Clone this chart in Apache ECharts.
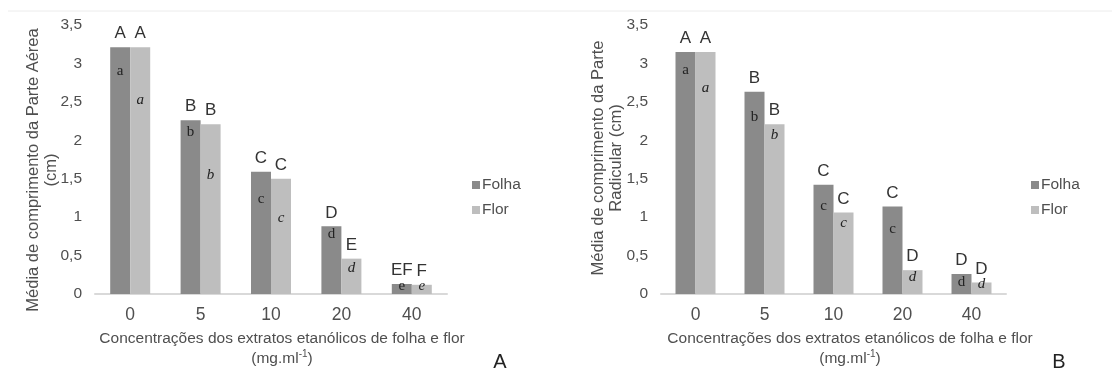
<!DOCTYPE html>
<html>
<head>
<meta charset="utf-8">
<script src="https://cdn.jsdelivr.net/npm/echarts@6/dist/echarts.min.js"></script>
<style>html,body{margin:0;padding:0;background:#fff}#c{width:1112px;height:372px}</style>
</head>
<body>
<div id="c"></div>
<script>
// ---- data ----
const categories = ['0', '5', '10', '20', '40'];
const folhaA = [3.21, 2.26, 1.59, 0.88, 0.13];
const florA  = [3.21, 2.21, 1.50, 0.46, 0.12];
const folhaB = [3.15, 2.63, 1.42, 1.14, 0.26];
const florB  = [3.15, 2.21, 1.06, 0.31, 0.15];
const upperFolhaA = ['A', 'B', 'C', 'D', 'EF'];
const upperFlorA  = ['A', 'B', 'C', 'E', 'F'];
const upperFolhaB = ['A', 'B', 'C', 'C', 'D'];
const upperFlorB  = ['A', 'B', 'C', 'D', 'D'];
const lowerFolhaA = ['a', 'b', 'c', 'd', 'e'];
const lowerFlorA  = ['a', 'b', 'c', 'd', 'e'];
const lowerFolhaB = ['a', 'b', 'c', 'c', 'd'];
const lowerFlorB  = ['a', 'b', 'c', 'd', 'd'];
const yMin = 0, yMax = 3.5, yInterval = 0.5;
const xTitle = 'Concentrações dos extratos etanólicos de folha e flor';
const xUnit = '(mg.ml{sup|-1})';
const yTitleA = ['Média de comprimento da Parte Aérea', '(cm)'];
const yTitleB = ['Média de comprimento da Parte', 'Radicular (cm)'];

// ---- styling (label placement inside bars, in px below bar top) ----
const offFolhaA = [24, 12, 27, 8, 2];
const offFlorA  = [53, 51, 39, 9, 1];
const offFolhaB = [18, 25, 21, 23, 8];
const offFlorB  = [36, 11, 11, 7, 2];

const COL_FOLHA = '#8a8a8a';
const COL_FLOR = '#bebebe';
const TXT = '#4f4f4f';
const SANS = 'Liberation Sans, Arial, sans-serif';
const SERIF = 'Liberation Serif, Times New Roman, serif';

function barSeries(name, vals, upper, lower, offs, color, italic, idx) {
  return {
    name: name, type: 'bar', xAxisIndex: idx, yAxisIndex: idx,
    data: vals, barWidth: 20, barGap: '0%',
    itemStyle: { color: color },
    label: {
      show: true, position: 'top', distance: 5,
      formatter: p => upper[p.dataIndex],
      color: '#333333', fontFamily: SANS, fontSize: 17
    },
    markPoint: {
      symbol: 'circle', symbolSize: 0, silent: true,
      itemStyle: { color: 'rgba(0,0,0,0)' },
      data: vals.map((v, i) => ({
        coord: [categories[i], v],
        label: {
          show: true, position: 'inside', offset: [0, offs[i]],
          formatter: lower[i], color: '#222', fontFamily: SERIF,
          fontSize: 15, fontStyle: italic ? 'italic' : 'normal'
        }
      }))
    }
  };
}

function xAx(idx) {
  return {
    type: 'category', gridIndex: idx, data: categories,
    axisLine: { lineStyle: { color: '#d9d9d9', width: 2 } },
    axisTick: { show: false },
    axisLabel: { color: TXT, fontFamily: SANS, fontSize: 17.5, margin: 12 }
  };
}
function yAx(idx) {
  return {
    type: 'value', gridIndex: idx, min: yMin, max: yMax, interval: yInterval,
    axisLine: { show: false }, axisTick: { show: false },
    splitLine: { show: false },
    axisLabel: {
      color: TXT, fontFamily: SANS, fontSize: 15.5, margin: 13,
      formatter: v => String(v).replace('.', ',')
    }
  };
}
function legend(left) {
  return {
    data: ['Folha', 'Flor'], orient: 'vertical', left: left, top: 172,
    icon: 'rect', itemWidth: 8, itemHeight: 8, itemGap: 9,
    textStyle: { color: TXT, fontFamily: SANS, fontSize: 15.5, padding: [0, 0, 0, -3] },
    selectedMode: false
  };
}
function xTitleGraphic(cx) {
  return {
    type: 'text', x: cx, y: 329,
    style: {
      text: xTitle + '\n' + xUnit, align: 'center', verticalAlign: 'top',
      fill: TXT, font: '15.5px ' + SANS, lineHeight: 20,
      rich: { sup: { fontSize: 10, verticalAlign: 'top', fill: TXT, padding: [0, 0, 6, 0] } }
    }
  };
}
function yTitleGraphic(cx, cy, lines) {
  return {
    type: 'text', x: cx, y: cy, rotation: Math.PI / 2,
    style: {
      text: lines.join('\n'), align: 'center', verticalAlign: 'middle',
      fill: TXT, font: '16.5px ' + SANS, lineHeight: 18
    }
  };
}

const chart = echarts.init(document.getElementById('c'), null, { renderer: 'canvas' });
chart.setOption({
  animation: false,
  backgroundColor: '#ffffff',
  grid: [
    { left: 95, right: 665, top: 25, bottom: 78 },
    { left: 661, right: 106, top: 25, bottom: 78 }
  ],
  xAxis: [xAx(0), xAx(1)],
  yAxis: [yAx(0), yAx(1)],
  legend: [legend(467), legend(1026)],
  series: [
    barSeries('Folha', folhaA, upperFolhaA, lowerFolhaA, offFolhaA, COL_FOLHA, false, 0),
    barSeries('Flor', florA, upperFlorA, lowerFlorA, offFlorA, COL_FLOR, true, 0),
    barSeries('Folha', folhaB, upperFolhaB, lowerFolhaB, offFolhaB, COL_FOLHA, false, 1),
    barSeries('Flor', florB, upperFlorB, lowerFlorB, offFlorB, COL_FLOR, true, 1)
  ],
  graphic: [
    { type: 'line', shape: { x1: 8, y1: 11, x2: 1112, y2: 11 }, style: { stroke: '#ececec', lineWidth: 1 } },
    xTitleGraphic(282),
    xTitleGraphic(850),
    yTitleGraphic(42, 170, yTitleA),
    yTitleGraphic(607, 158, yTitleB),
    { type: 'text', x: 500, y: 362, style: { text: 'A', align: 'center', verticalAlign: 'middle', fill: '#222', font: '20px ' + SANS } },
    { type: 'text', x: 1059, y: 362, style: { text: 'B', align: 'center', verticalAlign: 'middle', fill: '#222', font: '20px ' + SANS } }
  ]
});
</script>
</body>
</html>
